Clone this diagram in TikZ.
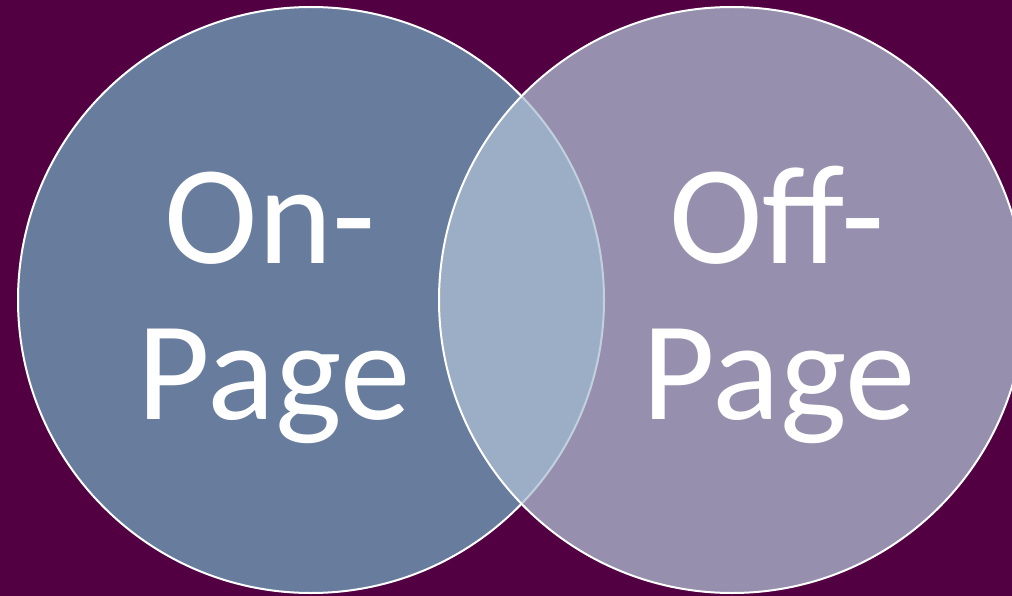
\documentclass[tikz,border=0pt]{standalone}
\usepackage{fontspec}
\setmainfont{Carlito}
\usepackage{xcolor}
\usetikzlibrary{positioning}

\definecolor{bgplum}{RGB}{82,0,66}
\definecolor{onpage}{RGB}{104,124,157}
\definecolor{offpage}{RGB}{174,192,211}

\tikzset{
    venn/.style={draw=white, line width=2pt},
    biglabel/.style={text=white, inner sep=0pt, anchor=base,
        font=\fontsize{141}{160}\selectfont}
}

\begin{document}
\begin{tikzpicture}[x=1pt, y=-1pt]
    \def\VRad{293}
    \def\VOnx{311}
    \def\VOffx{732}
    \def\VMidy{300}

    \useasboundingbox (0,0) rectangle (1012,596);
    \clip (0,0) rectangle (1012,596);
    \fill[bgplum] (0,0) rectangle (1012,596);

    % left circle, then the right one laid over it
    \draw[venn, fill=onpage] (\VOnx,\VMidy) circle (\VRad);
    \draw[venn, fill=offpage, fill opacity=0.75] (\VOffx,\VMidy) circle (\VRad);

    \node[biglabel] (on) at (270,263) {On-};
    \node[biglabel] (onpg) at (274,419) {Page};
    \node[biglabel] (off) at (777,263) {Off-};
    \node[biglabel] (offpg) at (779,419) {Page};

\end{tikzpicture}
\end{document}
